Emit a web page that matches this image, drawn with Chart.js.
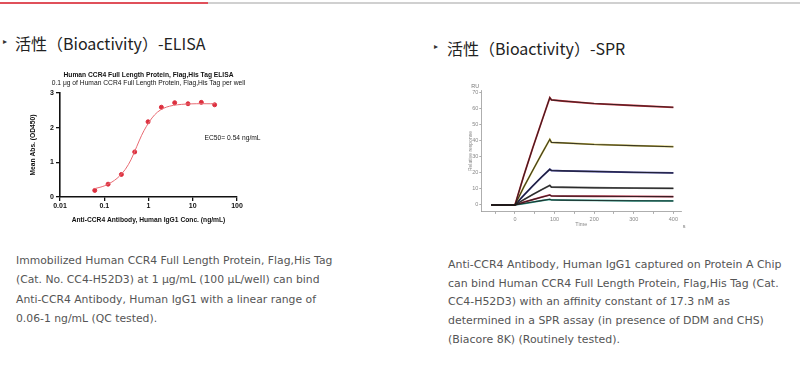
<!DOCTYPE html>
<html><head><meta charset="utf-8">
<script src="https://cdn.jsdelivr.net/npm/chart.js@4.4.1/dist/chart.umd.min.js"></script>
<style>
html,body{margin:0;padding:0;background:#fff;width:800px;height:368px;overflow:hidden;position:relative;}
.bar{position:absolute;top:2px;height:2px;}
.h{position:absolute;font-family:"Noto Sans CJK SC","Noto Sans",sans-serif;font-size:16px;color:#222;white-space:nowrap;line-height:20px;}
.tri{position:absolute;font-size:8px;color:#333;line-height:10px;font-family:"DejaVu Sans",sans-serif;}
.p{position:absolute;font-family:"DejaVu Sans",Verdana,sans-serif;color:#555;white-space:nowrap;line-height:19px;}
canvas{position:absolute;}
</style></head>
<body>
<div class="bar" style="left:0;width:208px;background:#e0505a"></div>
<div class="bar" style="left:208px;width:592px;background:#d0d0d0"></div>
<div class="tri" style="left:3px;top:37px">▸</div>
<div class="h" style="left:15px;top:33px">活性（Bioactivity）-ELISA</div>
<div class="tri" style="left:434px;top:42px">▸</div>
<div class="h" style="left:447px;top:38px">活性（Bioactivity）-SPR</div>
<div class="p" style="left:16px;top:251px;font-size:10.8px;line-height:19.3px">Immobilized Human CCR4 Full Length Protein, Flag,His Tag<br>(Cat. No. CC4-H52D3) at 1 μg/mL (100 μL/well) can bind<br>Anti-CCR4 Antibody, Human IgG1 with a linear range of<br>0.06-1 ng/mL (QC tested).</div>
<div class="p" style="left:448px;top:256px;font-size:10.95px;line-height:18.7px">Anti-CCR4 Antibody, Human IgG1 captured on Protein A Chip<br>can bind Human CCR4 Full Length Protein, Flag,His Tag (Cat.<br>CC4-H52D3) with an affinity constant of 17.3 nM as<br>determined in a SPR assay (in presence of DDM and CHS)<br>(Biacore 8K) (Routinely tested).</div>
<canvas id="elisa" width="270" height="165" style="left:20px;top:62px;width:270px;height:165px"></canvas>
<canvas id="spr" width="260" height="155" style="left:440px;top:80px;width:260px;height:155px"></canvas>
<script>
// ---------- ELISA data ----------
const elisaConc = [0.061, 0.122, 0.244, 0.488, 0.977, 1.953, 3.906, 7.813, 15.625, 31.25];
const elisaOD   = [0.19, 0.37, 0.65, 1.30, 2.17, 2.59, 2.72, 2.69, 2.73, 2.66];
const fitConc = [0.06, 0.08, 0.1, 0.13, 0.17, 0.22, 0.3, 0.4, 0.54, 0.7, 0.9, 1.2, 1.6, 2.2, 3, 4.5, 7, 12, 20, 32];
const fitOD   = [0.24, 0.28, 0.32, 0.39, 0.48, 0.6, 0.8, 1.07, 1.45, 1.78, 2.04, 2.28, 2.45, 2.56, 2.62, 2.66, 2.68, 2.69, 2.69, 2.69];
const elisaXTicks = [0.01, 0.1, 1, 10, 100];
const elisaXLabels = ['0.01', '0.1', '1', '10', '100'];
const elisaYTicks = [0, 1, 2, 3];

// ---------- SPR data ----------
const sprTime = [-60, 0, 22, 45, 67, 88, 92, 120, 200, 300, 400];
const spr1 = [0, 0, 18, 35.5, 51.5, 66.7, 65.3, 64.6, 63.0, 61.8, 60.7];
const spr2 = [0, 0, 11, 21.5, 31.5, 40.8, 38.9, 38.6, 37.6, 36.9, 36.2];
const spr3 = [0, 0, 6, 11.8, 17.3, 22.2, 21.4, 21.2, 20.8, 20.3, 19.9];
const spr4 = [0, 0, 3.3, 6.5, 9.5, 12.2, 11.1, 11.0, 10.7, 10.5, 10.3];
const spr5 = [0, 0, 1.7, 3.3, 4.8, 6.2, 5.6, 5.5, 5.4, 5.3, 5.2];
const spr6 = [0, 0, 0.9, 1.8, 2.7, 3.5, 3.1, 3.0, 2.8, 2.6, 2.5];
const sprXTicks = [-50, 0, 50, 100, 150, 200, 250, 300, 350, 400];
const sprXLabeled = [0, 100, 200, 300, 400];
const sprYTicks = [0, 10, 20, 30, 40, 50, 60, 70];

const F = '"Liberation Sans", Arial, sans-serif';

// ELISA chart
const elisaText = {
  id: 'elisaText',
  afterDraw(c) {
    const ctx = c.ctx, a = c.chartArea, cx = (a.left + a.right) / 2;
    ctx.save();
    ctx.fillStyle = '#111';
    ctx.textAlign = 'center'; ctx.textBaseline = 'middle';
    ctx.font = 'bold 6.7px ' + F;
    ctx.fillText('Human CCR4 Full Length Protein, Flag,His Tag ELISA', cx, 13);
    ctx.font = '6.7px ' + F;
    ctx.fillText('0.1 μg of Human CCR4 Full Length Protein, Flag,His Tag per well', cx, 21.5);
    ctx.textAlign = 'left';
    ctx.font = '6.7px ' + F;
    const xs = c.scales.x, ys = c.scales.y;
    ctx.fillText('EC50= 0.54 ng/mL', xs.getPixelForValue(18.5), ys.getPixelForValue(1.7));
    ctx.restore();
  }
};
new Chart(document.getElementById('elisa'), {
  type: 'scatter',
  data: {
    datasets: [
      { type: 'line', data: fitConc.map((x, i) => ({ x, y: fitOD[i] })), borderColor: '#e86a72', borderWidth: 1, pointRadius: 0, tension: 0.35, fill: false },
      { data: elisaConc.map((x, i) => ({ x, y: elisaOD[i] })), backgroundColor: '#dc2f3e', borderColor: '#dc2f3e', pointRadius: 2, pointStyle: 'circle' }
    ]
  },
  options: {
    responsive: false, animation: false, devicePixelRatio: 1,
    layout: { padding: { top: 31, right: 53, left: 0, bottom: 0 } },
    plugins: { legend: { display: false }, tooltip: { enabled: false } },
    scales: {
      x: {
        type: 'logarithmic', min: 0.01, max: 100,
        afterBuildTicks: s => { s.ticks = elisaXTicks.map(v => ({ value: v })); },
        afterFit: s => { s.height = 30; },
        ticks: { callback: (v) => { const i = elisaXTicks.indexOf(v); return i >= 0 ? elisaXLabels[i] : ''; }, font: { family: F, size: 7, weight: 'bold' }, color: '#111', padding: 1, maxRotation: 0, autoSkip: false },
        grid: { drawOnChartArea: false, drawTicks: true, tickLength: 4, color: '#111', lineWidth: 1.3 },
        border: { color: '#111', width: 1.6 },
        title: { display: true, text: 'Anti-CCR4 Antibody, Human IgG1 Conc. (ng/mL)', font: { family: F, size: 6.7, weight: 'bold' }, color: '#111', padding: { top: 3, bottom: 3 } }
      },
      y: {
        min: 0, max: 3,
        afterBuildTicks: s => { s.ticks = elisaYTicks.map(v => ({ value: v })); },
        afterFit: s => { s.width = 40; },
        ticks: { font: { family: F, size: 7, weight: 'bold' }, color: '#111', padding: 2 },
        grid: { drawOnChartArea: false, drawTicks: true, tickLength: 4, color: '#111', lineWidth: 1.3 },
        border: { color: '#111', width: 1.6 },
        title: { display: true, text: 'Mean Abs. (OD450)', font: { family: F, size: 6.7, weight: 'bold' }, color: '#111', padding: { top: 9, bottom: 0 } }
      }
    }
  },
  plugins: [elisaText]
});

// SPR chart (first datasets are drawn on top in Chart.js)
const sprColors = ['#c0303c', '#c8b848', '#3a3a90', '#666666', '#b83048', '#2f9a88'];
const sprSeries = [spr1, spr2, spr3, spr4, spr5, spr6];
const sprDatasets = [];
sprSeries.forEach((s, k) => {
  sprDatasets.push({ data: sprTime.map((t, i) => ({ x: t, y: s[i] })), borderColor: 'rgba(25,25,25,0.8)', borderWidth: 1.1, pointRadius: 0, tension: 0, fill: false });
});
sprSeries.forEach((s, k) => {
  sprDatasets.push({ data: sprTime.map((t, i) => ({ x: t, y: s[i] })), borderColor: sprColors[k], borderWidth: 1.8, pointRadius: 0, tension: 0, fill: false });
});
const sprText = {
  id: 'sprText',
  afterDraw(c) {
    const ctx = c.ctx, a = c.chartArea;
    ctx.save();
    ctx.fillStyle = '#777';
    ctx.font = '5.5px ' + F;
    ctx.textBaseline = 'middle'; ctx.textAlign = 'left';
    ctx.fillText('RU', a.left - 10, a.top - 4.5);
    ctx.fillText('s', a.right + 1.5, a.bottom + 15);
    ctx.restore();
  }
};
new Chart(document.getElementById('spr'), {
  type: 'line',
  data: { datasets: sprDatasets },
  options: {
    responsive: false, animation: false, devicePixelRatio: 1,
    layout: { padding: { top: 10.7, right: 18.7, left: 0, bottom: 0 } },
    plugins: { legend: { display: false }, tooltip: { enabled: false } },
    scales: {
      x: {
        type: 'linear', min: -85, max: 420,
        afterBuildTicks: s => { s.ticks = sprXTicks.map(v => ({ value: v })); },
        afterFit: s => { s.height = 23.6; },
        ticks: { callback: v => sprXLabeled.includes(v) ? String(v) : '', font: { family: F, size: 5.5 }, color: '#888', padding: 2, maxRotation: 0, autoSkip: false },
        grid: { drawOnChartArea: false, drawTicks: true, tickLength: 2.5, color: '#999', lineWidth: 0.8 },
        border: { color: '#999', width: 0.8 },
        title: { display: true, text: 'Time', font: { family: F, size: 5.5 }, color: '#888', padding: { top: 7, bottom: 7 } }
      },
      y: {
        min: -4, max: 71,
        afterBuildTicks: s => { s.ticks = sprYTicks.map(v => ({ value: v })); },
        afterFit: s => { s.width = 41.3; },
        ticks: { font: { family: F, size: 5.5 }, color: '#888', padding: 1 },
        grid: { drawOnChartArea: false, drawTicks: true, tickLength: 2, color: '#999', lineWidth: 0.8 },
        border: { color: '#999', width: 0.8 },
        title: { display: true, text: 'Relative response', font: { family: F, size: 5 }, color: '#888', padding: { top: 28, bottom: 0 } }
      }
    }
  },
  plugins: [sprText]
});
</script>
</body></html>
